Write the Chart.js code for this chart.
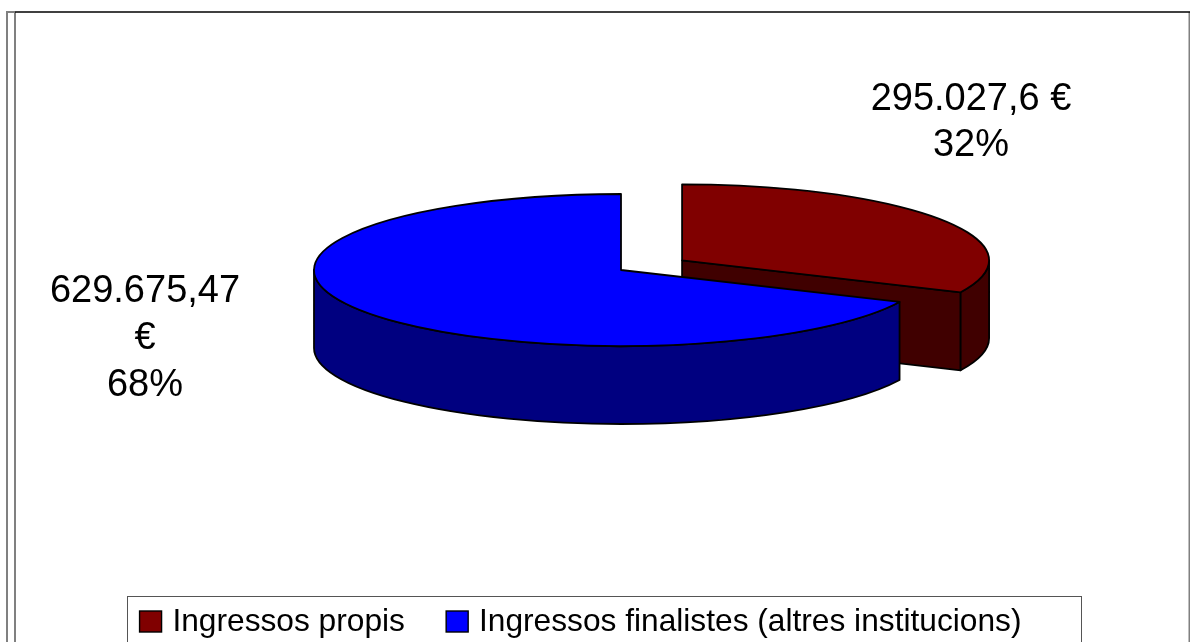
<!DOCTYPE html>
<html><head><meta charset="utf-8">
<style>html,body{margin:0;padding:0;background:#fff;overflow:hidden}canvas{display:block}</style>
<script src="https://cdn.jsdelivr.net/npm/chart.js@4"></script></head>
<body><canvas id="c" width="1190" height="642"></canvas>
<script>
const categories = ["Ingressos propis", "Ingressos finalistes (altres institucions)"];
const values = [295027.6, 629675.47];
const valueLabels = [["295.027,6 €", "32%"], ["629.675,47", "€", "68%"]];
const topColors = ["#800000", "#0000ff"];
const wallColors = ["#400000", "#000080"];
const explode = [169, 0];

const FONT = "'Liberation Sans', Arial, sans-serif";
const FACE = {cx: 621, cy: 270, rx: 307, ry: 76, depth: 78};
const LABEL_POS = [{x: 971, y: 110, step: 46}, {x: 145, y: 302, step: 47}];

function tracePie(ctx, c, a0, a1) {
  ctx.beginPath();
  ctx.moveTo(c.x, c.y);
  ctx.ellipse(c.x, c.y, FACE.rx, FACE.ry, 0, a0, a1);
  ctx.closePath();
}
function paint(ctx, fill) {
  ctx.fillStyle = fill; ctx.strokeStyle = "#000"; ctx.lineWidth = 1.8; ctx.lineJoin = "round";
  ctx.fill(); ctx.stroke();
}
function drawOuterWall(ctx, c, a0, a1, fill) {
  const PI = Math.PI;
  const lo = Math.max(a0, 0), hi = Math.min(a1, PI);
  if (hi <= lo) return;
  ctx.beginPath();
  ctx.ellipse(c.x, c.y, FACE.rx, FACE.ry, 0, lo, hi);
  ctx.ellipse(c.x, c.y + FACE.depth, FACE.rx, FACE.ry, 0, hi, lo, true);
  ctx.closePath();
  paint(ctx, fill);
}
function drawCutWall(ctx, c, a, fill) {
  const ex = c.x + FACE.rx * Math.cos(a), ey = c.y + FACE.ry * Math.sin(a);
  ctx.beginPath();
  ctx.moveTo(c.x, c.y); ctx.lineTo(ex, ey);
  ctx.lineTo(ex, ey + FACE.depth); ctx.lineTo(c.x, c.y + FACE.depth);
  ctx.closePath();
  paint(ctx, fill);
}

const pie3d = {
  id: "pie3d",
  beforeDatasetsDraw(chart) {
    const ctx = chart.ctx, meta = chart.getDatasetMeta(0);
    meta.data.forEach((arc, i) => {
      const a0 = arc.startAngle, a1 = arc.endAngle;
      const off = (arc.options.offset || 0) / 4;
      const fix = 1 - Math.sin(Math.min(Math.PI, a1 - a0));
      const d = off * (1 + fix) / arc.outerRadius;
      const h = (a0 + a1) / 2;
      const c = {x: FACE.cx + Math.cos(h) * d * FACE.rx, y: FACE.cy + Math.sin(h) * d * FACE.ry};
      ctx.save();
      if (Math.cos(a1) > 1e-6) drawCutWall(ctx, c, a1, wallColors[i]);
      if (-Math.cos(a0) > 1e-6) drawCutWall(ctx, c, a0, wallColors[i]);
      drawOuterWall(ctx, c, a0, a1, wallColors[i]);
      tracePie(ctx, c, a0, a1);
      paint(ctx, topColors[i]);
      ctx.restore();
    });
    return false;
  },
  beforeDraw(chart) {
    const ctx = chart.ctx;
    ctx.save();
    ctx.fillStyle = "#fff"; ctx.fillRect(0, 0, 1190, 642);
    ctx.strokeStyle = "#808080"; ctx.lineWidth = 2;
    ctx.beginPath();
    ctx.moveTo(7, 642); ctx.lineTo(7, 12); ctx.lineTo(15, 12);
    ctx.moveTo(15, 642); ctx.lineTo(15, 12);
    ctx.moveTo(1189.5, 12); ctx.lineTo(1189.5, 642);
    ctx.stroke();
    ctx.strokeStyle = "#000"; ctx.lineWidth = 1.5;
    ctx.beginPath(); ctx.moveTo(15, 12); ctx.lineTo(1190, 12); ctx.stroke();
    ctx.strokeStyle = "#555"; ctx.lineWidth = 1;
    ctx.strokeRect(127.5, 596.5, 954, 60);
    ctx.restore();
  },
  afterDraw(chart) {
    const ctx = chart.ctx;
    ctx.save();
    chart.legend.legendHitBoxes.forEach((b, i) => {
      ctx.fillStyle = topColors[i]; ctx.strokeStyle = "#000"; ctx.lineWidth = 1.4;
      ctx.fillRect(b.left - 5, 611, 22, 21);
      ctx.strokeRect(b.left - 5, 611, 22, 21);
    });
    ctx.fillStyle = "#000"; ctx.textAlign = "center"; ctx.textBaseline = "alphabetic";
    ctx.font = "38px " + FONT;
    valueLabels.forEach((lines, i) => {
      const p = LABEL_POS[i];
      lines.forEach((t, k) => ctx.fillText(t, p.x, p.y + k * p.step));
    });
    ctx.restore();
  }
};

new Chart(document.getElementById("c"), {
  type: "pie",
  data: {labels: categories, datasets: [{data: values, backgroundColor: topColors, offset: explode, borderWidth: 0}]},
  options: {
    responsive: false, animation: false, devicePixelRatio: 1,
    layout: {padding: {right: 24, bottom: -6}},
    plugins: {
      tooltip: {enabled: false},
      legend: {
        position: "bottom",
        labels: {
          boxWidth: 12, boxHeight: 21, padding: 46.25, color: "#000",
          font: {family: FONT, size: 31.7},
          generateLabels: (chart) => categories.map((t, i) => ({text: t, fillStyle: "rgba(0,0,0,0)", strokeStyle: "rgba(0,0,0,0)", fontColor: "#000", lineWidth: 0, index: i}))
        }
      }
    }
  },
  plugins: [pie3d]
});
</script></body></html>
